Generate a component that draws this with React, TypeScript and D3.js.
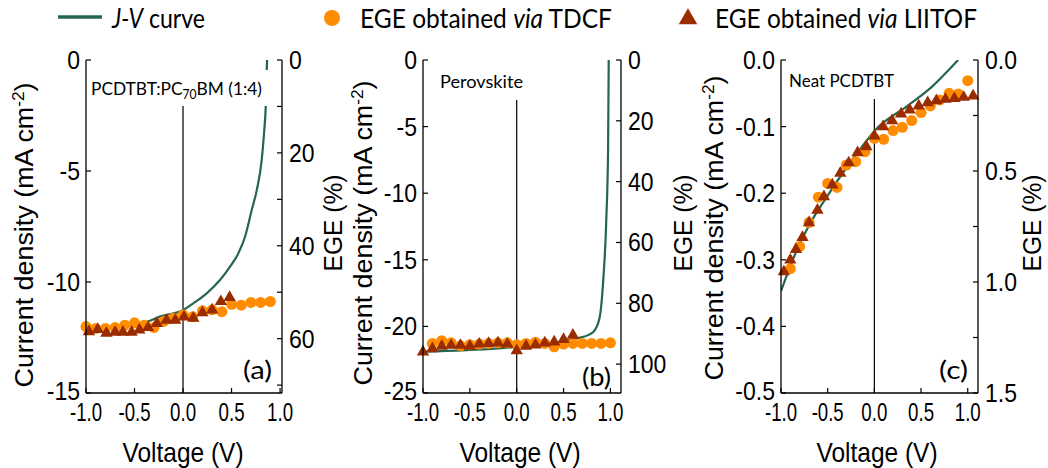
import React from 'react';
import * as d3 from 'd3';

const W = 1048;
const H = 468;
const TOP = 60;
const BOTTOM = 393;
const SY = 1.13;
const AX_FONT = '"Liberation Sans", Arial, sans-serif';
const LB_FONT = 'Lato, "Open Sans", sans-serif';
const GREEN = '#26664f';
const ORANGE = '#ff8c00';
const BROWN = '#9b2c00';

// ---------- legend ----------
const legendTDCF = 'EGE obtained ';
const legendLIITOF = 'EGE obtained ';

// ---------- shared x axis ----------
const xTickValues = [-1.0, -0.5, 0.0, 0.5, 1.0];
const xTickLabels = ['-1.0', '-0.5', '0.0', '0.5', '1.0'];

// ---------- panel (a) PCDTBT:PC70BM ----------
const jvA_V = [-1.0, -0.6, -0.37, -0.24, 0.003, 0.106, 0.244, 0.381, 0.485, 0.57, 0.639, 0.708, 0.76, 0.811, 0.835, 0.853, 0.866];
const jvA_J = [-12.2, -11.95, -11.79, -11.56, -11.26, -10.96, -10.51, -9.91, -9.31, -8.71, -7.96, -6.76, -5.86, -4.5, -3.3, -2.03, 0];
const tdcfA_V = [-1.0, -0.9, -0.8, -0.7, -0.6, -0.5, -0.4, -0.3, -0.2, -0.1, 0.0, 0.1, 0.2, 0.3, 0.4, 0.5, 0.6, 0.7, 0.8, 0.9];
const tdcfA_E = [57.4, 57.8, 57.8, 57.6, 57.1, 56.6, 57.1, 57.6, 56.3, 55.6, 54.9, 55.3, 54.0, 53.8, 54.2, 52.6, 52.8, 52.2, 52.2, 52.0];
const liitofA_V = [-0.97, -0.88, -0.79, -0.7, -0.62, -0.53, -0.45, -0.36, -0.27, -0.17, -0.08, 0.01, 0.106, 0.2, 0.3, 0.39, 0.48];
const liitofA_E = [58.5, 58.0, 58.8, 58.6, 58.6, 58.6, 58.1, 57.6, 56.7, 56.0, 56.0, 55.3, 55.6, 54.4, 53.8, 52.0, 51.1];
const jTicksA = [0, -5, -10, -15];
const jTickLabelsA = ['0', '-5', '-10', '-15'];
const egeTicksA = [0, 10, 20, 30, 40, 50, 60, 70];
const egeLabelTicksA = [0, 20, 40, 60];
const egeLabelsA = ['0', '20', '40', '60'];

// ---------- panel (b) Perovskite ----------
const jvB_V = [-1.0, -0.2, 0.424, 0.637, 0.779, 0.832, 0.886, 0.921, 0.957, 0.975, 0.982];
const jvB_J = [-21.9, -21.65, -21.2, -20.9, -20.6, -20.3, -19.3, -16.8, -11.8, -6.8, 0];
const tdcfB_V = [-0.9, -0.8, -0.7, -0.6, -0.5, -0.4, -0.3, -0.2, -0.1, 0.0, 0.1, 0.2, 0.3, 0.4, 0.5, 0.6, 0.7, 0.8, 0.9, 1.0];
const tdcfB_E = [93.2, 92.3, 93.0, 94.0, 93.6, 93.4, 93.2, 93.0, 93.0, 93.6, 93.2, 92.8, 93.2, 94.3, 93.4, 93.2, 93.2, 93.2, 93.2, 93.0];
const liitofB_V = [-1.0, -0.9, -0.8, -0.7, -0.6, -0.5, -0.4, -0.3, -0.2, -0.1, 0.0, 0.1, 0.2, 0.3, 0.4, 0.5, 0.6];
const liitofB_E = [96.0, 94.9, 94.1, 93.8, 93.8, 94.1, 93.4, 93.2, 93.0, 93.4, 95.6, 94.1, 93.7, 93.0, 92.7, 91.9, 90.5];
const jTicksB = [0, -5, -10, -15, -20, -25];
const jTickLabelsB = ['0', '-5', '-10', '-15', '-20', '-25'];
const egeTicksB = [0, 20, 40, 60, 80, 100];
const egeLabelTicksB = [0, 20, 40, 60, 80, 100];
const egeLabelsB = ['0', '20', '40', '60', '80', '100'];

// ---------- panel (c) Neat PCDTBT ----------
const jvC_V = [-1.0, -0.829, -0.686, -0.507, -0.365, -0.186, 0.011, 0.367, 0.618, 0.796, 0.897];
const jvC_J = [-0.347, -0.285, -0.245, -0.205, -0.175, -0.14, -0.105, -0.0676, -0.04, -0.015, 0];
const tdcfC_V = [-0.9, -0.8, -0.7, -0.6, -0.5, -0.4, -0.3, -0.2, -0.1, 0.0, 0.1, 0.2, 0.3, 0.4, 0.5, 0.6, 0.7, 0.8, 0.9, 1.0];
const tdcfC_E = [0.94, 0.84, 0.732, 0.618, 0.556, 0.574, 0.473, 0.458, 0.413, 0.353, 0.357, 0.318, 0.303, 0.273, 0.237, 0.207, 0.18, 0.15, 0.153, 0.093];
const liitofC_V = [-0.97, -0.9, -0.84, -0.77, -0.7, -0.61, -0.54, -0.45, -0.365, -0.275, -0.18, -0.086, 0.0, 0.093, 0.19, 0.286, 0.378, 0.475, 0.571, 0.664, 0.761, 0.857, 0.957, 1.058];
const liitofC_E = [0.954, 0.901, 0.853, 0.799, 0.733, 0.676, 0.616, 0.563, 0.51, 0.463, 0.417, 0.39, 0.342, 0.3, 0.273, 0.243, 0.225, 0.207, 0.192, 0.183, 0.177, 0.173, 0.168, 0.162];
const jTicksC = [0, -0.1, -0.2, -0.3, -0.4, -0.5];
const jTickLabelsC = ['0.0', '-0.1', '-0.2', '-0.3', '-0.4', '-0.5'];
const egeTicksC = [0, 0.25, 0.5, 0.75, 1.0, 1.25, 1.5];
const egeLabelTicksC = [0, 0.5, 1.0, 1.5];
const egeLabelsC = ['0.0', '0.5', '1.0', '1.5'];

type Spec = {
  id: string;
  left: number;
  right: number;
  xMax: number;
  jMin: number;
  egeMax: number;
  jTicks: number[];
  jTickLabels: string[];
  egeTicks: number[];
  egeLabelTicks: number[];
  egeLabels: string[];
  jvV: number[];
  jvJ: number[];
  tdcfV: number[];
  tdcfE: number[];
  liitofV: number[];
  liitofE: number[];
  letter: string;
  zeroColor: string;
  zeroWidth: number;
  yLabelX: number;
  yLabelY: number;
  egeLabelX: number;
  xLabelX: number;
  box: [number, number, number, number];
  zeroTop: number;
};

const specs: Spec[] = [
  {
    id: 'a', left: 86, right: 282, xMax: 1.02, jMin: -15, egeMax: 71.7,
    jTicks: jTicksA, jTickLabels: jTickLabelsA, egeTicks: egeTicksA, egeLabelTicks: egeLabelTicksA, egeLabels: egeLabelsA,
    jvV: jvA_V, jvJ: jvA_J, tdcfV: tdcfA_V, tdcfE: tdcfA_E, liitofV: liitofA_V, liitofE: liitofA_E,
    letter: '(a)', zeroColor: '#555', zeroWidth: 1.8, yLabelX: 33, yLabelY: 235, egeLabelX: 342, xLabelX: 183,
    box: [88, 70, 270, 106], zeroTop: 106,
  },
  {
    id: 'b', left: 423, right: 621, xMax: 1.113, jMin: -25, egeMax: 109.5,
    jTicks: jTicksB, jTickLabels: jTickLabelsB, egeTicks: egeTicksB, egeLabelTicks: egeLabelTicksB, egeLabels: egeLabelsB,
    jvV: jvB_V, jvJ: jvB_J, tdcfV: tdcfB_V, tdcfE: tdcfB_E, liitofV: liitofB_V, liitofE: liitofB_E,
    letter: '(b)', zeroColor: '#000', zeroWidth: 1.2, yLabelX: 372, yLabelY: 233, egeLabelX: 692, xLabelX: 520,
    box: [430, 64, 530, 100], zeroTop: 100,
  },
  {
    id: 'c', left: 781, right: 978, xMax: 1.11, jMin: -0.5, egeMax: 1.5,
    jTicks: jTicksC, jTickLabels: jTickLabelsC, egeTicks: egeTicksC, egeLabelTicks: egeLabelTicksC, egeLabels: egeLabelsC,
    jvV: jvC_V, jvJ: jvC_J, tdcfV: tdcfC_V, tdcfE: tdcfC_E, liitofV: liitofC_V, liitofE: liitofC_E,
    letter: '(c)', zeroColor: '#000', zeroWidth: 1.2, yLabelX: 723, yLabelY: 228, egeLabelX: 1041, xLabelX: 877,
    box: [785, 64, 898, 99], zeroTop: 99,
  },
];

const triPath = d3.symbol().type(d3.symbolTriangle).size(66)() as string;
const triLegend = d3.symbol().type(d3.symbolTriangle).size(150)() as string;

function HText(props: {
  x: number; y: number; anchor?: string; size: number; family: string; len?: number;
  baseline?: string; children: React.ReactNode; sy?: number;
}) {
  const { x, y, anchor = 'start', size, family, len, baseline, children, sy = SY } = props;
  return (
    <g transform={`translate(${x},${y}) scale(1,${sy})`}>
      <text
        x={0}
        y={0}
        textAnchor={anchor as any}
        fontSize={size}
        fontFamily={family}
        dominantBaseline={baseline as any}
        textLength={len}
        lengthAdjust={len ? 'spacingAndGlyphs' : undefined}
        fill="#000"
      >
        {children}
      </text>
    </g>
  );
}

function Title({ id }: { id: string }) {
  if (id === 'a') {
    return (
      <HText x={91} y={95} size={16.5} family={LB_FONT} len={171} sy={1.08}>
        PCDTBT:PC<tspan fontSize={11.5} dy={4}>70</tspan><tspan dy={-4}>BM (1:4)</tspan>
      </HText>
    );
  }
  if (id === 'b') {
    return <HText x={440} y={88} size={16.5} family={LB_FONT} len={83} sy={1.08}>Perovskite</HText>;
  }
  return <HText x={789} y={87} size={16.5} family={LB_FONT} len={105} sy={1.08}>Neat PCDTBT</HText>;
}

function Panel({ p }: { p: Spec }) {
  const x = d3.scaleLinear().domain([-1, p.xMax]).range([p.left, p.right]);
  const yJ = d3.scaleLinear().domain([p.jMin, 0]).range([BOTTOM, TOP]);
  const yE = d3.scaleLinear().domain([0, p.egeMax]).range([TOP, BOTTOM]);
  const line = d3
    .line<number>()
    .x((_, i) => x(p.jvV[i]))
    .y((_, i) => yJ(p.jvJ[i]))
    .curve(d3.curveMonotoneX);
  const clipId = `clip-${p.id}`;
  const tick = 5;
  const [bx0, by0, bx1, by1] = p.box;
  return (
    <g>
      <defs>
        <clipPath id={clipId}>
          <rect x={p.left} y={TOP} width={p.right - p.left} height={BOTTOM - TOP} />
        </clipPath>
      </defs>
      {/* zero-voltage line */}
      <line x1={x(0)} x2={x(0)} y1={p.zeroTop} y2={BOTTOM} stroke={p.zeroColor} strokeWidth={p.zeroWidth} />
      {/* J-V curve */}
      <path d={line(p.jvJ) || ''} fill="none" stroke={GREEN} strokeWidth={2.2} clipPath={`url(#${clipId})`} />
      {/* white label box */}
      <rect x={bx0} y={by0} width={bx1 - bx0} height={by1 - by0} fill="#fff" />
      {/* TDCF circles */}
      {p.tdcfV.map((v, i) => (
        <circle key={`c${i}`} cx={x(v)} cy={yE(p.tdcfE[i])} r={5.5} fill={ORANGE} />
      ))}
      {/* LIITOF triangles */}
      {p.liitofV.map((v, i) => (
        <path key={`t${i}`} d={triPath} transform={`translate(${x(v)},${yE(p.liitofE[i])})`} fill={BROWN} />
      ))}
      {/* axes */}
      <line x1={p.left} x2={p.left} y1={TOP} y2={BOTTOM} stroke="#000" strokeWidth={1.3} />
      <line x1={p.right} x2={p.right} y1={TOP} y2={BOTTOM} stroke="#000" strokeWidth={1.3} />
      <line x1={p.left} x2={p.right} y1={BOTTOM} y2={BOTTOM} stroke="#000" strokeWidth={1.3} />
      {p.jTicks.map((t, i) => (
        <g key={`jt${i}`}>
          <line x1={p.left} x2={p.left + tick} y1={yJ(t)} y2={yJ(t)} stroke="#000" strokeWidth={1.2} />
          <HText x={p.left - 6} y={yJ(t) - (i === p.jTicks.length - 1 ? 2 : 0)} anchor="end" size={23} family={AX_FONT} baseline="central">
            {p.jTickLabels[i]}
          </HText>
        </g>
      ))}
      {p.egeTicks.map((t, i) => (
        <line key={`et${i}`} x1={p.right - tick} x2={p.right} y1={yE(t)} y2={yE(t)} stroke="#000" strokeWidth={1.2} />
      ))}
      {p.egeLabelTicks.map((t, i) => (
        <HText key={`el${i}`} x={p.right + 7} y={yE(t)} anchor="start" size={23} family={AX_FONT} baseline="central">
          {p.egeLabels[i]}
        </HText>
      ))}
      {xTickValues.map((t, i) => (
        <g key={`xt${i}`}>
          <line x1={x(t)} x2={x(t)} y1={BOTTOM} y2={BOTTOM - tick} stroke="#000" strokeWidth={1.2} />
          <HText
            x={x(t)}
            y={421}
            anchor="middle"
            size={23}
            family={AX_FONT}
            len={xTickLabels[i].length === 4 ? 32 : 26}
            sy={1.15}
          >
            {xTickLabels[i]}
          </HText>
        </g>
      ))}
      {/* axis titles */}
      <HText x={p.xLabelX} y={462} anchor="middle" size={24.5} family={AX_FONT}>
        Voltage (V)
      </HText>
      <text
        transform={`translate(${p.yLabelX},${p.yLabelY}) rotate(-90)`}
        textAnchor="middle"
        fontSize={25}
        fontFamily={AX_FONT}
        textLength={305}
        lengthAdjust="spacingAndGlyphs"
      >
        Current density (mA cm<tspan fontSize={16} dy={-9}>-2</tspan><tspan dy={9}>)</tspan>
      </text>
      <text
        transform={`translate(${p.egeLabelX},223) rotate(-90)`}
        textAnchor="middle"
        fontSize={25}
        fontFamily={AX_FONT}
        textLength={97}
        lengthAdjust="spacingAndGlyphs"
      >
        EGE (%)
      </text>
      <Title id={p.id} />
      <HText x={p.right - 10} y={p.id === 'b' ? 386 : 379} anchor="end" size={24} family={LB_FONT} len={29} sy={1.05}>
        {p.letter}
      </HText>
    </g>
  );
}

function Legend() {
  return (
    <g>
      <line x1={58} x2={102} y1={17} y2={17} stroke={GREEN} strokeWidth={3.5} />
      <HText x={112} y={28} size={24.5} family={LB_FONT} len={93}>
        <tspan fontStyle="italic">J-V</tspan> curve
      </HText>
      <circle cx={332} cy={18} r={8} fill={ORANGE} />
      <HText x={360} y={28} size={24.5} family={LB_FONT} len={252}>
        {legendTDCF}<tspan fontStyle="italic">via</tspan> TDCF
      </HText>
      <path d={triLegend} transform="translate(688,19)" fill={BROWN} />
      <HText x={715} y={28} size={24.5} family={LB_FONT} len={262}>
        {legendLIITOF}<tspan fontStyle="italic">via</tspan> LIITOF
      </HText>
    </g>
  );
}

export default function App() {
  return (
    <svg
      width={W}
      height={H}
      viewBox={`0 0 ${W} ${H}`}
      style={{ position: 'absolute', left: 0, top: 0, background: '#fff' }}
    >
      <rect x={0} y={0} width={W} height={H} fill="#fff" />
      <Legend />
      {specs.map((p) => (
        <Panel key={p.id} p={p} />
      ))}
    </svg>
  );
}
